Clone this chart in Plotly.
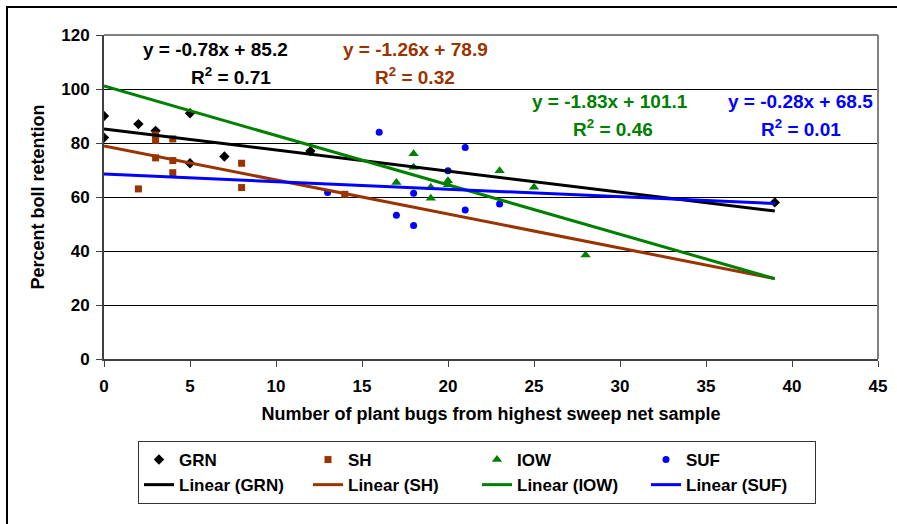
import numpy as np
import plotly.graph_objects as go

# ---- data ----
grn_x = [0, 0, 2, 3, 5, 5, 7, 12, 39]
grn_y = [90, 82, 87, 84.5, 91, 72.5, 75, 77, 58]

sh_x = [2, 3, 3, 3, 4, 4, 4, 8, 8, 14]
sh_y = [63, 83, 81, 74.5, 81.5, 73.5, 69, 72.5, 63.5, 61]

iow_x = [17, 18, 18, 19, 19, 20, 20, 23, 25, 28]
iow_y = [65.4, 76, 71, 63.6, 59.5, 66, 64.5, 69.7, 63.6, 38.5]

suf_x = [13, 16, 17, 18, 18, 20, 21, 21, 23]
suf_y = [61.7, 84, 53.2, 61.4, 49.4, 69.7, 78.3, 55.2, 57.4]

series_names = ["GRN", "SH", "IOW", "SUF"]
slopes = [-0.78, -1.26, -1.83, -0.28]
intercepts = [85.2, 78.9, 101.1, 68.5]
r2_values = [0.71, 0.32, 0.46, 0.01]
trend_range = [0, 39]

x_ticks = [0, 5, 10, 15, 20, 25, 30, 35, 40, 45]
y_ticks = [0, 20, 40, 60, 80, 100, 120]

colors = ["#000000", "#993300", "#008000", "#0000FF"]
symbols = ["diamond", "square", "triangle-up", "circle"]
msizes = [8, 7, 9, 7]

FONT = "Liberation Sans, Arial, sans-serif"

fig = go.Figure()
xs = [grn_x, sh_x, iow_x, suf_x]
ys = [grn_y, sh_y, iow_y, suf_y]
for name, x, y, c, s, ms in zip(series_names, xs, ys, colors, symbols, msizes):
    fig.add_trace(go.Scatter(x=x, y=y, mode="markers", name=name,
                             marker=dict(color=c, symbol=s, size=ms, line=dict(width=0))))

for name, m, b, c in zip(series_names, slopes, intercepts, colors):
    tx = np.array(trend_range, dtype=float)
    fig.add_trace(go.Scatter(x=tx, y=m * tx + b, mode="lines", name=f"Linear ({name})",
                             line=dict(color=c, width=3)))

# equation labels (position in data units, per series)
label_pos = [(6.5, 114.5, 7.4, 104.8), (18.1, 114.5, 18.1, 104.8),
             (29.4, 95.3, 29.6, 85.6), (40.5, 95.3, 40.5, 85.6)]
for (ex, ey, rx, ry), m, b, r2, c in zip(label_pos, slopes, intercepts, r2_values, colors):
    sign = "+" if b >= 0 else "-"
    fig.add_annotation(x=ex, y=ey, xref="x", yref="y", showarrow=False,
                       text=f"y = {m:.2f}x {sign} {abs(b):.1f}",
                       font=dict(family=FONT, size=19, color=c, weight="bold"))
    fig.add_annotation(x=rx, y=ry, xref="x", yref="y", showarrow=False,
                       text=f"R<sup>2</sup> = {r2:.2f}",
                       font=dict(family=FONT, size=19, color=c, weight="bold"))

# plot frame (top / right, gray) and outer chart border
fig.add_shape(type="line", xref="paper", yref="paper", x0=0, x1=1, y0=1, y1=1,
              line=dict(color="#808080", width=2))
fig.add_shape(type="line", xref="paper", yref="paper", x0=1, x1=1, y0=0, y1=1,
              line=dict(color="#808080", width=2))
fig.add_shape(type="rect", xref="paper", yref="paper",
              x0=(7 - 104) / 774, x1=(905 - 104) / 774,
              y0=(359 - 540) / 324, y1=(359 - 7) / 324,
              line=dict(color="#000000", width=2), layer="below")

fig.update_layout(
    width=897, height=524,
    margin=dict(l=104, r=19, t=35, b=165, autoexpand=False),
    paper_bgcolor="white", plot_bgcolor="white",
    font=dict(family=FONT, size=17, color="black", weight="bold"),
    xaxis=dict(range=[0, 45], tickvals=x_ticks, showgrid=False, zeroline=False,
               showline=True, linecolor="#404040", linewidth=2,
               ticks="outside", ticklen=6, tickcolor="#404040", ticklabelstandoff=5,
               tickfont=dict(family=FONT, size=17, weight="bold"), automargin=False,
               title=dict(text="Number of plant bugs from highest sweep net sample",
                          font=dict(family=FONT, size=18, weight="bold"), standoff=12)),
    yaxis=dict(range=[0, 120], tickvals=y_ticks, showgrid=True, gridcolor="black",
               gridwidth=1, zeroline=False, automargin=False,
               showline=True, linecolor="#404040", linewidth=2,
               ticks="outside", ticklen=6, tickcolor="#404040", ticklabelstandoff=3,
               tickfont=dict(family=FONT, size=17, weight="bold"),
               title=dict(text="Percent boll retention",
                          font=dict(family=FONT, size=18, weight="bold"), standoff=12)),
    legend=dict(orientation="h", x=(138 - 104) / 774, y=(359 - 441) / 324,
                xanchor="left", yanchor="top", bordercolor="#333333", borderwidth=1,
                entrywidth=124, font=dict(family=FONT, size=17, weight="bold"),
                bgcolor="white"),
    showlegend=True,
)

fig.write_html("out.html", config={"displayModeBar": False},
               post_script="document.body.style.margin='0px';")
